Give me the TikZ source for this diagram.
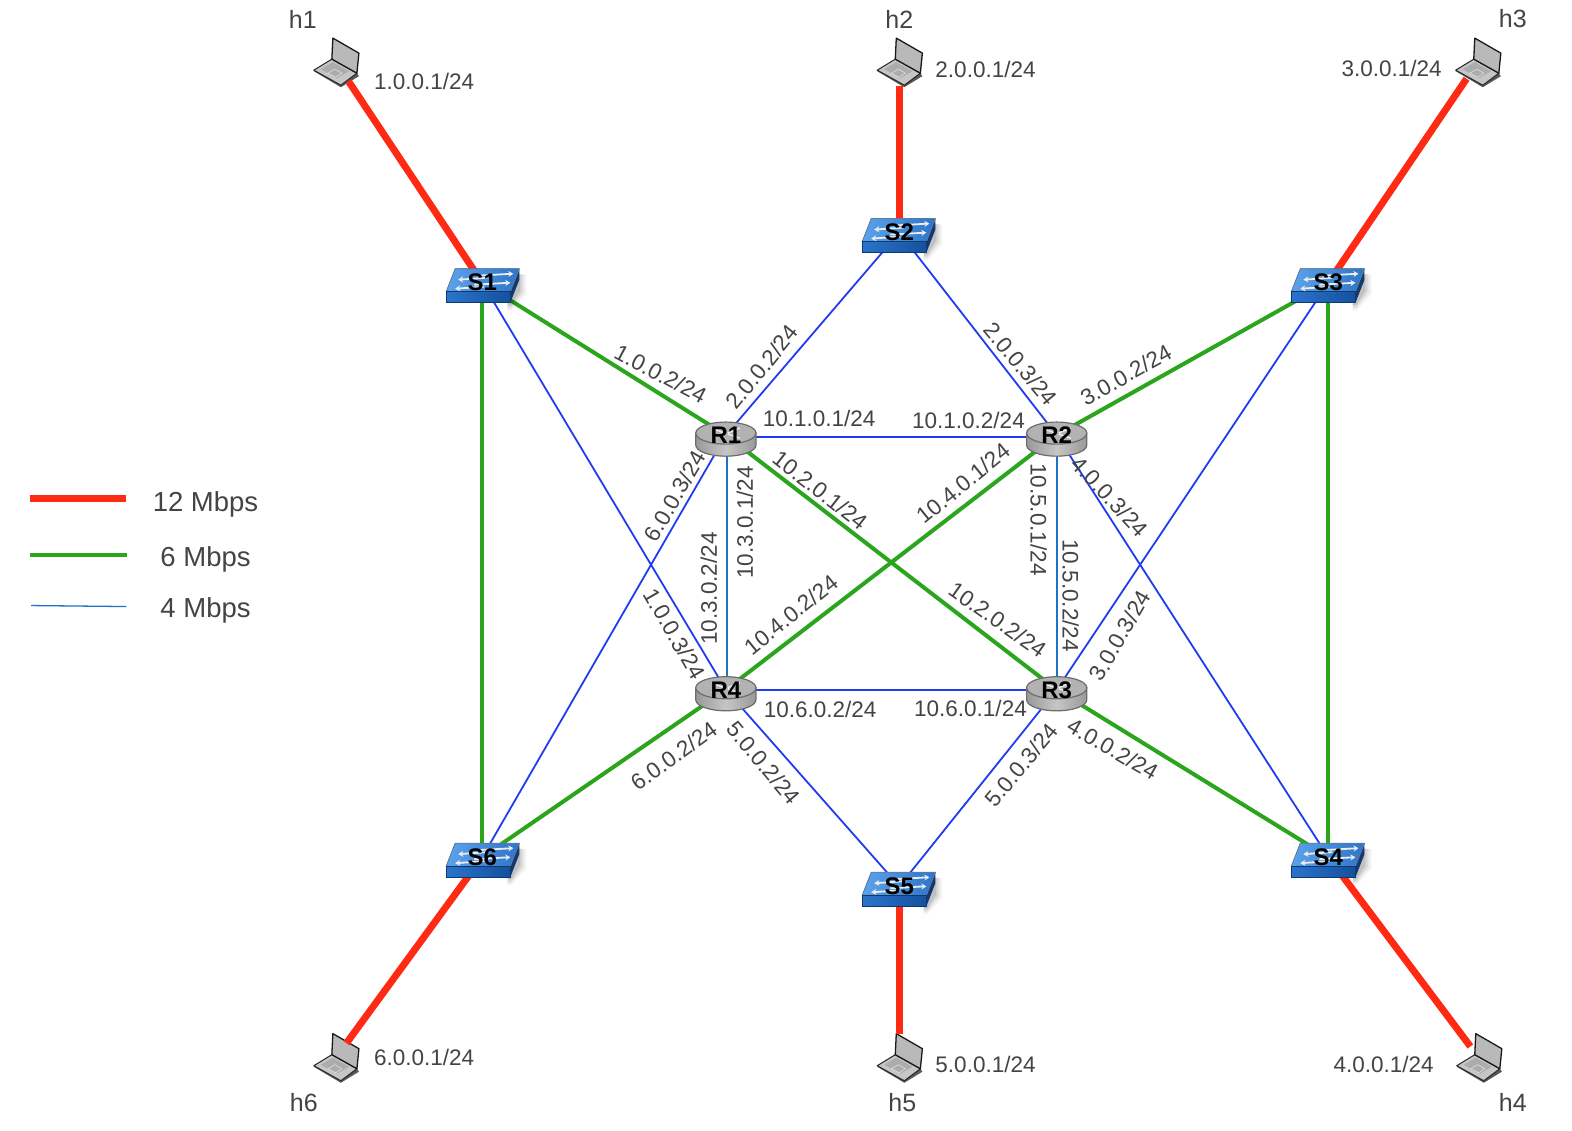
\documentclass[tikz,border=0pt]{standalone}
\usepackage{fontspec}
\setmainfont{Liberation Sans}
\usetikzlibrary{arrows.meta}
\pgfdeclarelayer{hostlayer}
\pgfdeclarelayer{linelayer}
\pgfsetlayers{hostlayer,linelayer,main}
\definecolor{lred}{HTML}{FF2A14}
\definecolor{lgreen}{HTML}{2BA51C}
\definecolor{lblue}{HTML}{1F3CF0}
\definecolor{lsteel}{HTML}{1F72C8}
\definecolor{txt}{HTML}{444444}
\definecolor{swtopa}{HTML}{5BA3EC}
\definecolor{swtopb}{HTML}{2E74C8}
\definecolor{swfronta}{HTML}{2A74CC}
\definecolor{swfrontb}{HTML}{15509E}
\definecolor{swside}{HTML}{123A70}
\tikzset{
  x=1.0026pt,y=-1.0026pt,
  redl/.style={draw=lred,line width=7pt},
  greenl/.style={draw=lgreen,line width=4pt},
  bluel/.style={draw=lblue,line width=1.8pt},
  steell/.style={draw=lsteel,line width=2pt},
  iplabel/.style={font=\fontsize{22.5}{25}\selectfont,text=txt,inner sep=0pt},
  hlabel/.style={font=\fontsize{25}{28}\selectfont,text=txt,inner sep=0pt},
  leglabel/.style={font=\fontsize{27.5}{30}\selectfont,text=txt,inner sep=0pt},
  devtext/.style={font=\fontsize{24}{26}\bfseries\selectfont,text=black,inner sep=0pt},
}
% switch: #1 name, #2 x, #3 y, #4 icon offset
\newcommand\SwitchAt[4]{%
\begin{scope}[shift={(#2+#4,#3)}]
  \foreach \o/\s in {.04/6,.05/4,.07/2,.1/0}{
    \fill[black,opacity=\o] (30,-10) -- (39+\s,-8) -- (39+\s,8+\s*.6) -- (30,22+\s) -- (26,22+\s) -- cycle;}
  \fill[left color=swfronta,right color=swfrontb] (-35,9) rectangle (29,20);
  \fill[swside] (29,9) -- (38,-14) -- (38,-3) -- (29,20) -- cycle;
  \fill[left color=swtopa,right color=swtopb,draw=gray!60!swtopb,line width=.8pt,line join=round]
    (-26,-14) -- (38,-14) -- (29,9) -- (-35,9) -- cycle;
  \draw[swfrontb!70!black,line width=.6pt] (-35,9) rectangle (29,20);
  \foreach \dy/\dx in {-6/0,3/-3}{
    \draw[white!85!gray,line width=1.8pt,-{Stealth[length=5pt,width=6pt]}] (-4+\dx,\dy-1) -- (32+\dx,\dy-3);
    \draw[white!85!gray,line width=1.8pt,-{Stealth[length=5pt,width=6pt]}] (6+\dx,\dy+1) -- (-23+\dx,\dy+3);
  }
\end{scope}
\node[devtext] (#1) at (#2,#3) {#1};}
% router
\newcommand\RouterAt[3]{%
\begin{scope}[shift={(#2,#3)}]
  \fill[left color=gray!80,right color=gray!80,middle color=gray!45,draw=gray!85!black,line width=1.2pt]
    (-30,-2) -- (-30,10) arc[start angle=180,end angle=0,x radius=30,y radius=11] -- (30,-2) -- cycle;
  \fill[gray!60!white,draw=gray!85!black,line width=1.2pt] (0,-2) ellipse[x radius=30,y radius=11];
  \draw[white!90!gray,line width=1.2pt] (-14,-7) -- (-2,-2) (14,-7) -- (2,-2) (-14,3) -- (-2,-1) (14,3) -- (2,-1);
  \node[devtext] (#1) at (0,0) {#1};
\end{scope}}
% host
\newcommand\HostAt[3]{%
\begin{pgfonlayer}{hostlayer}
\begin{scope}[shift={(#2,#3)}]
  \fill[gray!70!black] (-22,9) -- (5,25) -- (23,14) -- (21,11) -- (-4,-3) -- cycle;
  \fill[gray!45,draw=gray!30!black,line width=1pt,line join=round] (-22,8) -- (-4,-3) -- (21,11) -- (5,23) -- cycle;
  \fill[gray!65] (-15,7) -- (-3,0) -- (13,9) -- (1,16) -- cycle;
  \draw[gray!30,line width=.7pt] (-8,11) -- (-1,7) -- (6,11) -- (0,15) -- cycle;
  \fill[gray!55!white,draw=gray!20!black,line width=1.3pt,line join=round] (-4,-3) -- (-3,-24) -- (23,-9) -- (21,11) -- cycle;
  \node[inner sep=0pt,minimum size=40pt] (#1) at (0,0) {};
\end{scope}
\end{pgfonlayer}}
\newcommand\lab[4]{\node[iplabel,rotate=#3] (ip-#1-#2) at (#1,#2) {#4};}
\begin{document}
\begin{tikzpicture}
\useasboundingbox (0,0) rectangle (1568,1128);
\begin{pgfonlayer}{hostlayer}
\fill[white] (0,0) rectangle (1568,1128);
\end{pgfonlayer}
% hosts
\HostAt{h1}{335}{62}
\HostAt{h2}{897}{62}
\HostAt{h3}{1474}{62}
\HostAt{h4}{1475}{1055}
\HostAt{h5}{897}{1055}
\HostAt{h6}{335}{1055}
% switches and routers
\SwitchAt{S1}{481}{282}{-1}
\SwitchAt{S2}{897}{232}{-2}
\SwitchAt{S3}{1325}{282}{-2}
\SwitchAt{S4}{1325}{855}{-2}
\SwitchAt{S5}{897}{884}{-2}
\SwitchAt{S6}{481}{855}{-1}
\RouterAt{R1}{724}{434}
\RouterAt{R2}{1054}{434}
\RouterAt{R3}{1054}{688}
\RouterAt{R4}{724}{688}
% connectors
\begin{pgfonlayer}{linelayer}
\draw[redl,shorten <=23pt] (h1.center) -- (S1.center);
\draw[redl,shorten <=24pt] (h2.center) -- (S2.center);
\draw[redl,shorten <=20pt] (h3.center) -- (S3.center);
\draw[redl,shorten <=14pt] (h4.center) -- (S4.center);
\draw[redl,shorten <=24pt] (h5.center) -- (S5.center);
\draw[redl,shorten <=18pt] (h6.center) -- (S6.center);
\draw[greenl] (S1.center) -- (S6.center);
\draw[greenl] (S3.center) -- (S4.center);
\draw[greenl] (S1.center) -- (R1.center);
\draw[greenl] (S3.center) -- (R2.center);
\draw[greenl] (S4.center) -- (R3.center);
\draw[greenl] (S6.center) -- (R4.center);
\draw[greenl] (R1.center) -- (R3.center);
\draw[greenl] (R2.center) -- (R4.center);
\draw[bluel] (S1.center) -- (R4.center);
\draw[bluel] (S6.center) -- (R1.center);
\draw[bluel] (S3.center) -- (R3.center);
\draw[bluel] (S4.center) -- (R2.center);
\draw[bluel] (S2.center) -- (R1.center);
\draw[bluel] (S2.center) -- (R2.center);
\draw[bluel] (S5.center) -- (R3.center);
\draw[bluel] (S5.center) -- (R4.center);
\draw[bluel] ([yshift=-2pt]R1.center) -- ([yshift=-2pt]R2.center);
\draw[bluel] (R3.center) -- (R4.center);
\draw[steell] ([xshift=1pt]R1.center) -- ([xshift=1pt]R4.center);
\draw[steell] (R2.center) -- (R3.center);
\end{pgfonlayer}
% host labels
\node[hlabel] (lh1) at (302,19) {h1};
\node[hlabel] (lh2) at (897,19) {h2};
\node[hlabel] (lh3) at (1509,19) {h3};
\node[hlabel] (lh4) at (1509,1100) {h4};
\node[hlabel] (lh5) at (900,1100) {h5};
\node[hlabel] (lh6) at (303,1100) {h6};
% address labels
\lab{423}{81}{0}{1.0.0.1/24}
\lab{983}{69}{0}{2.0.0.1/24}
\lab{1388}{68}{0}{3.0.0.1/24}
\lab{1380}{1062}{0}{4.0.0.1/24}
\lab{983}{1062}{0}{5.0.0.1/24}
\lab{423}{1055}{0}{6.0.0.1/24}
\lab{659}{373}{-28}{1.0.0.2/24}
\lab{760}{366}{51}{2.0.0.2/24}
\lab{1018}{363}{-50}{2.0.0.3/24}
\lab{1123}{374}{29}{3.0.0.2/24}
\lab{817}{417}{0}{10.1.0.1/24}
\lab{966}{419}{0}{10.1.0.2/24}
\lab{673}{495}{60}{6.0.0.3/24}
\lab{743}{521}{90}{10.3.0.1/24}
\lab{707}{587}{90}{10.3.0.2/24}
\lab{818}{489}{-38}{10.2.0.1/24}
\lab{961}{482}{39}{10.4.0.1/24}
\lab{1036}{518}{-90}{10.5.0.1/24}
\lab{1068}{594}{-90}{10.5.0.2/24}
\lab{1107}{495}{-47}{4.0.0.3/24}
\lab{1117}{634}{60}{3.0.0.3/24}
\lab{673}{632}{-60}{1.0.0.3/24}
\lab{789}{613}{39}{10.4.0.2/24}
\lab{995}{618}{-35}{10.2.0.2/24}
\lab{818}{708}{0}{10.6.0.2/24}
\lab{968}{707}{0}{10.6.0.1/24}
\lab{672}{754}{36}{6.0.0.2/24}
\lab{762}{761}{-50}{5.0.0.2/24}
\lab{1019}{763}{50}{5.0.0.3/24}
\lab{1110}{747}{-30}{4.0.0.2/24}
% legend
\coordinate (leg1a) at (30,497); \coordinate (leg1b) at (126,497);
\coordinate (leg2a) at (30,554); \coordinate (leg2b) at (127,554);
\coordinate (leg3a) at (31,604); \coordinate (leg3b) at (126,605);
\draw[draw=lred,line width=6.5pt] (leg1a) -- (leg1b);
\draw[greenl] (leg2a) -- (leg2b);
\draw[draw=lsteel,line width=1.3pt] (leg3a) -- (leg3b);
\node[leglabel] (leg12) at (205,503) {12 Mbps};
\node[leglabel] (leg6) at (205,558) {6 Mbps};
\node[leglabel] (leg4) at (205,609) {4 Mbps};
\end{tikzpicture}
\end{document}
